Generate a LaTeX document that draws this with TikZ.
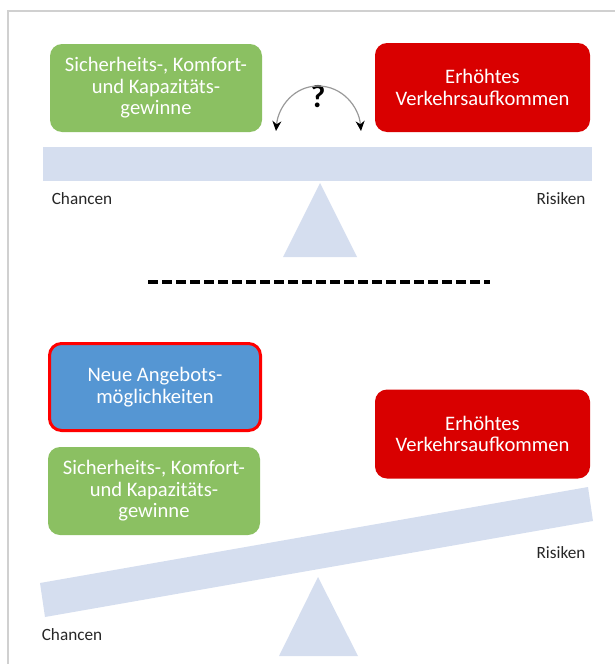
\documentclass[tikz,border=0pt]{standalone}
\usepackage{fontspec}
\setmainfont{Carlito}
\usepackage{tikz}
\usetikzlibrary{arrows.meta}
\definecolor{beamblue}{RGB}{213,222,239}
\definecolor{chgreen}{RGB}{139,192,98}
\definecolor{riskred}{RGB}{217,0,0}
\definecolor{offerblue}{RGB}{85,150,211}
\definecolor{framegray}{RGB}{208,208,208}
\tikzset{
  box/.style={rounded corners=6pt, inner sep=0pt, align=center, text=white,
    font=\fontsize{10.3}{10.8}\selectfont},
  greenbox/.style={box, fill=chgreen, minimum width=106pt, minimum height=44pt},
  redbox/.style={box, fill=riskred, minimum width=107.5pt, minimum height=44.5pt},
  side/.style={text=black!85, font=\fontsize{8.6}{10}\selectfont},
  beam/.style={fill=beamblue}
}

\begin{document}
\begin{tikzpicture}[x=0.5pt,y=-0.5pt]
  \useasboundingbox (0,0) rectangle (615,664);
  \draw[framegray, line width=1pt] (8,664) -- (8,11) -- (615,11);

  % oben: Waage im Gleichgewicht
  \path[beam] (43,147) rectangle (592,181);
  \path[beam] (320,183) -- (357,257) -- (283,257) -- cycle;
  \node[greenbox] (gewinneA) at (156,88) {Sicherheits-, Komfort-\\und Kapazitäts-\\gewinne};
  \node[redbox] (verkehrA) at (482.5,87.5) {Erhöhtes\\Verkehrsaufkommen};
  \node[side] (chancenA) at (82,199) {Chancen};
  \node[side] (risikenA) at (561,199) {Risiken};
  \node[font=\fontsize{16}{16}\bfseries\selectfont] (frage) at (318,97) {?};
  \coordinate (spitze) at (318,86);
  \coordinate (linksA) at (276,131);
  \coordinate (rechtsA) at (361,131);
  \draw[black!40, line width=0.6pt, -{Stealth[black,length=5pt,width=4.5pt]}] (spitze) to[out=180,in=85] (linksA);
  \draw[black!40, line width=0.6pt, -{Stealth[black,length=5pt,width=4.5pt]}] (spitze) to[out=0,in=95] (rechtsA);

  \draw[line width=1.75pt, dash pattern=on 5pt off 2pt] (148,282) -- (490,282);

  % unten: gekippte Waage
  \path[beam] (40,583) -- (588,487) -- (593,521) -- (45,617) -- cycle;
  \path[beam] (318,577) -- (358,656) -- (279,656) -- cycle;
  \node[box, fill=offerblue, draw=red, line width=1.5pt, minimum width=105.5pt, minimum height=43.5pt] (angebot) at (155,387) {Neue Angebots-\\möglichkeiten};
  \node[greenbox] (gewinneB) at (154,491) {Sicherheits-, Komfort-\\und Kapazitäts-\\gewinne};
  \node[redbox] (verkehrB) at (482.5,434) {Erhöhtes\\Verkehrsaufkommen};
  \node[side] (chancenB) at (72,635) {Chancen};
  \node[side] (risikenB) at (561,553) {Risiken};
\end{tikzpicture}
\end{document}
